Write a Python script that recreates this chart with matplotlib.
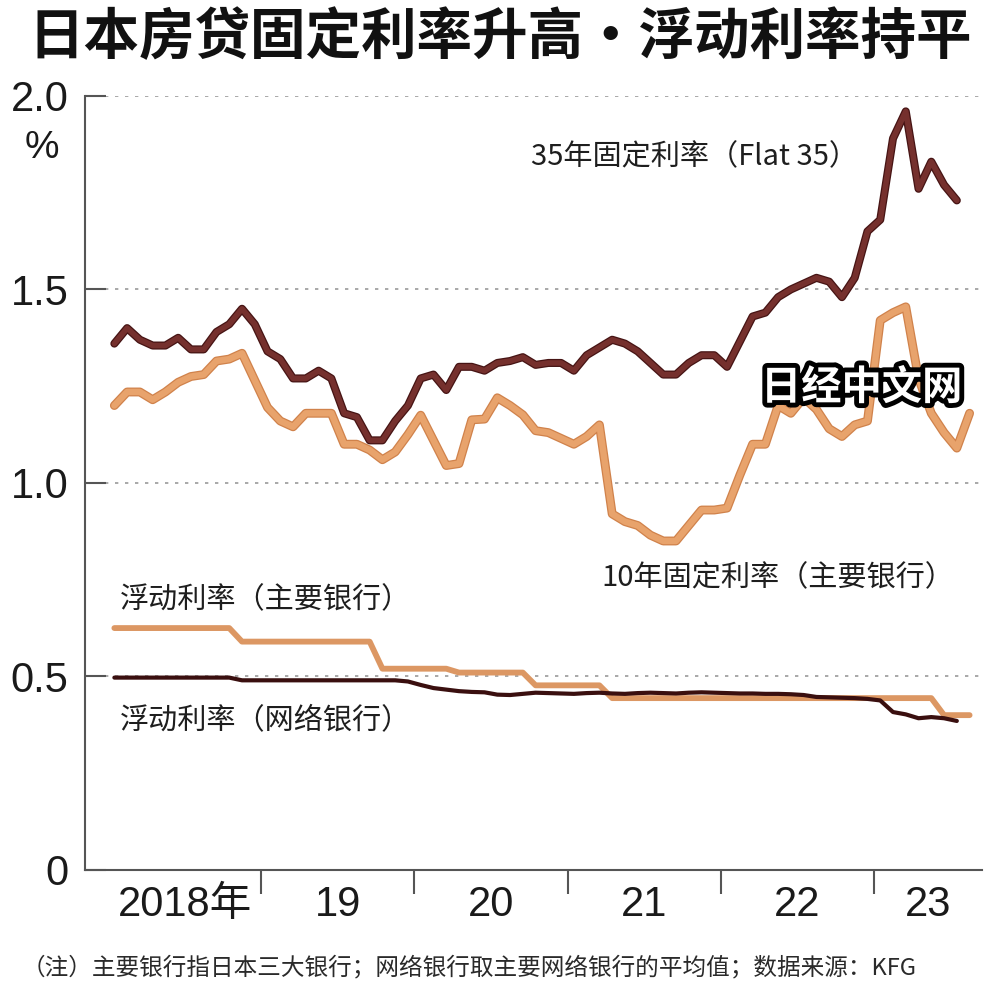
import numpy as np
import matplotlib
matplotlib.use("Agg")
import matplotlib.pyplot as plt
import matplotlib.patheffects as pe
from matplotlib import font_manager as fm

# ---------------- data (monthly, starting Jan 2018) ----------------
fixed35 = [
    1.36, 1.40, 1.37, 1.355, 1.355, 1.375, 1.345, 1.345, 1.39, 1.41, 1.45, 1.41,   # 2018
    1.34, 1.32, 1.27, 1.27, 1.29, 1.27, 1.18, 1.17, 1.11, 1.11, 1.16, 1.20,        # 2019
    1.27, 1.28, 1.24, 1.30, 1.30, 1.29, 1.31, 1.315, 1.325, 1.305, 1.31, 1.31,     # 2020
    1.29, 1.33, 1.35, 1.37, 1.36, 1.34, 1.31, 1.28, 1.28, 1.31, 1.33, 1.33,        # 2021
    1.30, 1.365, 1.43, 1.44, 1.48, 1.50, 1.515, 1.53, 1.52, 1.48, 1.53, 1.65,      # 2022
    1.68, 1.89, 1.96, 1.76, 1.83, 1.77, 1.73,                                      # 2023 Jan-Jul
]
fixed10 = [
    1.20, 1.235, 1.235, 1.215, 1.235, 1.26, 1.275, 1.28, 1.315, 1.32, 1.335, 1.265,  # 2018
    1.195, 1.16, 1.145, 1.18, 1.18, 1.18, 1.10, 1.10, 1.085, 1.06, 1.08, 1.125,      # 2019
    1.175, 1.11, 1.045, 1.05, 1.163, 1.165, 1.22, 1.20, 1.176, 1.135, 1.13, 1.115,   # 2020
    1.10, 1.12, 1.15, 0.92, 0.90, 0.89, 0.865, 0.85, 0.85, 0.89, 0.93, 0.93,         # 2021
    0.935, 1.02, 1.10, 1.10, 1.20, 1.18, 1.22, 1.19, 1.14, 1.12, 1.15, 1.16,         # 2022
    1.42, 1.44, 1.455, 1.27, 1.18, 1.13, 1.09, 1.18,                                 # 2023 Jan-Aug
]
float_major = (
    [0.625] * 10 + [0.59] * 11 + [0.52] * 6 + [0.51] * 6 + [0.477] * 6
    + [0.444] * 26 + [0.40] * 3
)
float_net = [
    0.497, 0.497, 0.497, 0.497, 0.497, 0.497, 0.497, 0.497, 0.497, 0.497, 0.49, 0.49,
    0.49, 0.49, 0.49, 0.49, 0.49, 0.49, 0.49, 0.49, 0.49, 0.49, 0.49, 0.487,
    0.478, 0.470, 0.466, 0.462, 0.460, 0.459, 0.453, 0.452, 0.455, 0.458, 0.457, 0.456,
    0.455, 0.457, 0.458, 0.456, 0.455, 0.457, 0.458, 0.457, 0.456, 0.458, 0.459, 0.458,
    0.457, 0.456, 0.456, 0.455, 0.455, 0.454, 0.452, 0.447, 0.446, 0.445, 0.444, 0.442,
    0.438, 0.408, 0.402, 0.392, 0.395, 0.392, 0.385,
]
start_year = 2018
year_labels = ["2018年", "19", "20", "21", "22", "23"]
ytick_vals = [0, 0.5, 1.0, 1.5, 2.0]
ytick_labels = ["0", "0.5", "1.0", "1.5", "2.0"]

title = "日本房贷固定利率升高・浮动利率持平"
lbl35 = "35年固定利率（Flat 35）"
lbl10 = "10年固定利率（主要银行）"
lbl_fm = "浮动利率（主要银行）"
lbl_fn = "浮动利率（网络银行）"
watermark = "日经中文网"
footnote = "（注）主要银行指日本三大银行；网络银行取主要网络银行的平均值；数据来源：KFG"


def month_x(vals):
    n = np.arange(len(vals))
    return start_year + (n + 0.5) / 12.0


# ---------------- fonts ----------------
names = {f.name for f in fm.fontManager.ttflist}
num_font = "Liberation Sans Narrow" if "Liberation Sans Narrow" in names else "Liberation Sans"
num_size = 32 if num_font == "Liberation Sans Narrow" else 30
CJK = "Noto Sans CJK SC"
plt.rcParams["font.family"] = [CJK, "DejaVu Sans"]

# ---------------- figure ----------------
fig = plt.figure(figsize=(10, 9.98), dpi=100)
fig.patch.set_facecolor("white")
ax = fig.add_axes([0.085, 0.1283, 0.897, 0.7756])
ax.set_facecolor("white")

xmin, xmax = 2017.85, 2023.706
ax.set_xlim(xmin, xmax)
ax.set_ylim(0, 2.0)

# grid
ax.set_yticks(ytick_vals)
ax.set_yticklabels(ytick_labels, fontfamily=[num_font, CJK], fontsize=num_size, color="#1a1a1a")
ax.yaxis.grid(True, linestyle=(0, (2, 4)), color="#9a9a9a", linewidth=1.2)
ax.set_axisbelow(True)
ax.tick_params(axis="y", direction="in", length=15, width=1.5, color="#555555", pad=12)

# x ticks: year boundaries (major), labels at year centres (minor)
ax.set_xticks(np.arange(start_year + 1, start_year + len(year_labels)))
ax.set_xticklabels([])
ax.tick_params(axis="x", which="major", direction="out", length=17, width=1.5, color="#555555")
centres = [start_year + k + 0.5 for k in range(len(year_labels) - 1)]
centres.append((start_year + len(year_labels) - 1 + xmax) / 2)
ax.set_xticks(centres, minor=True)
ax.set_xticklabels(year_labels, minor=True, fontfamily=[num_font, CJK], fontsize=num_size,
                   color="#1a1a1a")
ax.tick_params(axis="x", which="minor", length=0, pad=11)

for s in ["top", "right"]:
    ax.spines[s].set_visible(False)
for s in ["left", "bottom"]:
    ax.spines[s].set_color("#555555")
    ax.spines[s].set_linewidth(1.5)

# lines
ax.plot(month_x(float_major), float_major, color="#dc9763", lw=4.2,
        solid_capstyle="round", solid_joinstyle="round", zorder=3)
ax.plot(month_x(float_net), float_net, color="#3a0f0f", lw=3.0,
        solid_capstyle="round", solid_joinstyle="round", zorder=4)
ax.plot(month_x(fixed10), fixed10, color="#e8a36c", lw=4.6,
        solid_capstyle="round", solid_joinstyle="round", zorder=5,
        path_effects=[pe.Stroke(linewidth=6.4, foreground="#d0824b"), pe.Normal()])
ax.plot(month_x(fixed35), fixed35, color="#75302d", lw=4.0,
        solid_capstyle="round", solid_joinstyle="round", zorder=6,
        path_effects=[pe.Stroke(linewidth=5.8, foreground="#461414"), pe.Normal()])

# annotations
tkw = dict(fontsize=21, color="#1e1e1e", va="center", ha="left", fontweight="medium", zorder=7)
ax.text(2020.76, 1.842, lbl35, **tkw)
ax.text(2021.22, 0.755, lbl10, **tkw)
ax.text(2018.08, 0.698, lbl_fm, **tkw)
ax.text(2018.08, 0.388, lbl_fn, **tkw)

ax.text(2022.92, 1.245, watermark, fontsize=29, fontweight="heavy", color="white",
        ha="center", va="center", zorder=8,
        path_effects=[pe.withStroke(linewidth=7, foreground="black")])

# % unit
fig.text(0.042, 1 - 148 / 998, "%", fontfamily=[num_font, CJK], fontsize=28,
         color="#1a1a1a", ha="center", va="center")

# title and footnote
fig.text(0.5, 1 - 38 / 998, title, fontsize=40, fontweight="bold", color="#111111",
         ha="center", va="center")
fig.text(0.022, 1 - 968 / 998, footnote, fontsize=17, color="#2a2a2a", fontweight="medium",
         ha="left", va="center")

fig.savefig("out.png", dpi=100, facecolor="white")
